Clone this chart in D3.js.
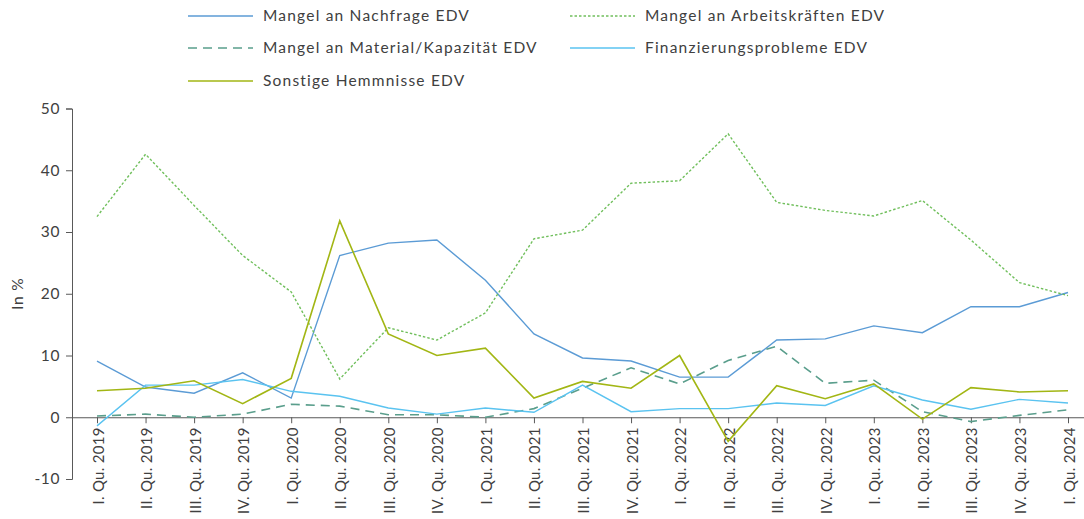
<!DOCTYPE html>
<html>
<head>
<meta charset="utf-8">
<script src="https://cdn.jsdelivr.net/npm/d3@7"></script>
<style>
  body { margin: 0; background: #fff; }
  text { font-family: "Lato", "Open Sans", sans-serif; fill: #404040; }
</style>
</head>
<body>
<script>
let quarters = ["I. Qu. 2019", "II. Qu. 2019", "III. Qu. 2019", "IV. Qu. 2019",
  "I. Qu. 2020", "II. Qu. 2020", "III. Qu. 2020", "IV. Qu. 2020",
  "I. Qu. 2021", "II. Qu. 2021", "III. Qu. 2021", "IV. Qu. 2021",
  "I. Qu. 2022", "II. Qu. 2022", "III. Qu. 2022", "IV. Qu. 2022",
  "I. Qu. 2023", "II. Qu. 2023", "III. Qu. 2023", "IV. Qu. 2023",
  "I. Qu. 2024"];

let nachfrage = [9.1, 4.9, 3.9, 7.2, 3.1, 26.2, 28.2, 28.7, 22.2, 13.5, 9.6, 9.1, 6.5, 6.5, 12.5, 12.7, 14.8, 13.7, 17.9, 17.9, 20.2];
let arbeitskraefte = [32.5, 42.6, 34.3, 26.2, 20.3, 6.2, 14.5, 12.5, 16.9, 28.9, 30.3, 37.9, 38.3, 45.9, 34.8, 33.5, 32.6, 35.1, 28.7, 21.8, 19.7];
let material = [0.2, 0.5, 0.0, 0.5, 2.1, 1.8, 0.4, 0.4, 0.0, 1.4, 4.7, 8.0, 5.4, 9.2, 11.5, 5.5, 6.0, 0.9, -0.7, 0.3, 1.2];
let finanzierung = [-1.4, 5.2, 5.2, 6.1, 4.2, 3.4, 1.5, 0.5, 1.5, 0.8, 5.2, 0.9, 1.4, 1.4, 2.3, 1.9, 5.1, 2.8, 1.3, 2.9, 2.3];
let sonstige = [4.3, 4.7, 5.9, 2.2, 6.3, 31.8, 13.5, 10.0, 11.2, 3.1, 5.8, 4.7, 10.0, -3.9, 5.1, 3.0, 5.4, -0.3, 4.8, 4.1, 4.3];

let yTicks = [-10, 0, 10, 20, 30, 40, 50];

let series = [
  { name: "Mangel an Nachfrage EDV", values: nachfrage, color: "#5b9bd5", dash: null, width: 1.4 },
  { name: "Mangel an Arbeitskräften EDV", values: arbeitskraefte, color: "#70bf5c", dash: "2.5,2", width: 1.4 },
  { name: "Mangel an Material/Kapazität EDV", values: material, color: "#5a9e8c", dash: "9,6", width: 1.6 },
  { name: "Finanzierungsprobleme EDV", values: finanzierung, color: "#5ac3f0", dash: null, width: 1.4 },
  { name: "Sonstige Hemmnisse EDV", values: sonstige, color: "#a2b614", dash: null, width: 1.6 }
];

let width = 1084, height = 519;
let axisLeft = 72, axisRight = 1084;

let svg = d3.select("body").append("svg")
  .attr("width", width)
  .attr("height", height);

let x = d3.scalePoint()
  .domain(quarters)
  .range([97, 1068]);

let y = d3.scaleLinear()
  .domain([-10, 50])
  .range([479, 108.5]);

// y axis
let yAxis = svg.append("g")
  .attr("transform", `translate(${axisLeft},0)`)
  .call(d3.axisLeft(y).tickValues(yTicks).tickFormat(d => String(d)).tickSize(6).tickPadding(6));
yAxis.select(".domain").attr("stroke", "#595959");
yAxis.selectAll(".tick line").attr("stroke", "#595959");
yAxis.selectAll(".tick text")
  .attr("font-size", "15.5px")
  .attr("font-family", "Lato, sans-serif")
  .attr("letter-spacing", "0.6px")
  .attr("fill", "#404040");

svg.append("text")
  .attr("transform", `translate(23, ${y(20)}) rotate(-90)`)
  .attr("text-anchor", "middle")
  .attr("font-size", "15.5px")
  .attr("letter-spacing", "0.8px")
  .text("In %");

// x axis at zero
let xAxis = svg.append("g")
  .attr("transform", `translate(0, ${y(0)})`)
  .call(d3.axisBottom(x).tickSize(6).tickSizeOuter(0).tickPadding(7));
xAxis.select(".domain").attr("d", `M${axisLeft},0.5H${axisRight}`).attr("stroke", "#595959");
xAxis.selectAll(".tick line").attr("stroke", "#595959");
xAxis.selectAll(".tick text")
  .attr("font-size", "15px")
  .attr("font-family", "Lato, sans-serif")
  .attr("letter-spacing", "0.3px")
  .attr("fill", "#404040")
  .attr("text-anchor", "end")
  .attr("dy", null)
  .attr("transform", "rotate(-90)")
  .attr("x", -10)
  .attr("y", 0)
  .attr("dominant-baseline", "central");

// lines
let line = d3.line()
  .x((d, i) => x(quarters[i]))
  .y(d => y(d));

svg.append("g").selectAll("path")
  .data(series)
  .enter().append("path")
  .attr("d", d => line(d.values))
  .attr("fill", "none")
  .attr("stroke", d => d.color)
  .attr("stroke-width", d => d.width)
  .attr("stroke-dasharray", d => d.dash)
  .attr("stroke-linejoin", "miter");

// legend
let legendPos = [[188, 16], [570, 16], [188, 48], [570, 48], [188, 81]];
let legend = svg.append("g").selectAll("g")
  .data(series)
  .enter().append("g")
  .attr("transform", (d, i) => `translate(${legendPos[i][0]},${legendPos[i][1]})`);

legend.append("line")
  .attr("x1", 0)
  .attr("x2", 65)
  .attr("stroke", d => d.color)
  .attr("stroke-width", d => d.width)
  .attr("stroke-dasharray", d => d.dash);

legend.append("text")
  .attr("x", 75)
  .attr("dy", "0.35em")
  .attr("font-size", "15.5px")
  .attr("letter-spacing", "1.2px")
  .text(d => d.name);
</script>
</body>
</html>
